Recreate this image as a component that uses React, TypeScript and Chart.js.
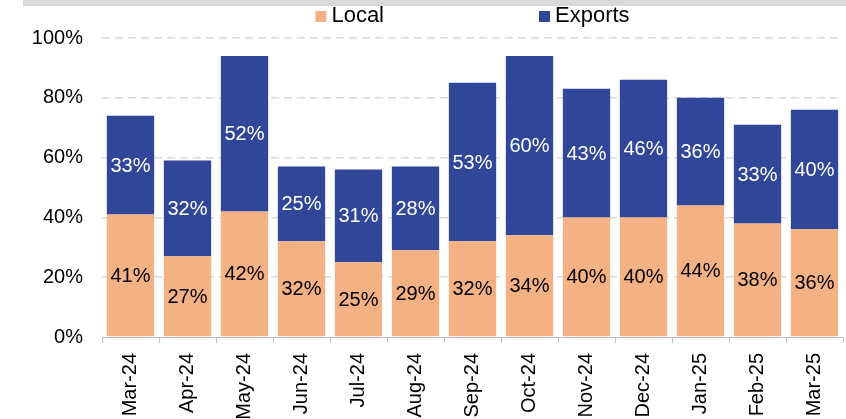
import React, { useEffect, useRef } from 'react';
import { Chart, registerables } from 'chart.js';

Chart.register(...registerables);

const categories = ['Mar-24', 'Apr-24', 'May-24', 'Jun-24', 'Jul-24', 'Aug-24', 'Sep-24', 'Oct-24', 'Nov-24', 'Dec-24', 'Jan-25', 'Feb-25', 'Mar-25'];
const localValues = [41, 27, 42, 32, 25, 29, 32, 34, 40, 40, 44, 38, 36];
const exportValues = [33, 32, 52, 25, 31, 28, 53, 60, 43, 46, 36, 33, 40];
const seriesNames = ['Local', 'Exports'];
const seriesColors = ['#F4B183', '#2F4699'];
const labelColors = ['#000000', '#ffffff'];
const yMin = 0;
const yMax = 100;
const yStep = 20;

const FONT = "'Liberation Sans', Arial, Helvetica, sans-serif";

export default function App() {
  const ref = useRef<HTMLCanvasElement>(null);

  useEffect(() => {
    const canvas = ref.current;
    if (!canvas) return;

    const topStrip = {
      id: 'topStrip',
      beforeDraw(chart: any) {
        const ctx = chart.ctx;
        ctx.save();
        ctx.fillStyle = '#d9d9d9';
        ctx.fillRect(23, 0, chart.width - 23, 6);
        ctx.restore();
      },
    };

    const customLegend = {
      id: 'customLegend',
      afterDraw(chart: any) {
        const ctx = chart.ctx;
        const area = chart.chartArea;
        ctx.save();
        ctx.font = `22px ${FONT}`;
        ctx.textBaseline = 'middle';
        ctx.textAlign = 'left';
        const box = 11;
        const gapBox = 5;
        const itemGap = 155;
        const widths = seriesNames.map((n) => ctx.measureText(n).width);
        const total = widths.reduce((a, w) => a + box + gapBox + w, 0) + itemGap * (seriesNames.length - 1);
        let x = (area.left + area.right) / 2 - total / 2;
        const cy = 16;
        seriesNames.forEach((name, i) => {
          ctx.fillStyle = seriesColors[i];
          ctx.fillRect(x, cy - 5, box, 11);
          ctx.fillStyle = '#000';
          ctx.fillText(name, x + box + gapBox, cy);
          x += box + gapBox + widths[i] + itemGap;
        });
        ctx.restore();
      },
    };

    const barLabels = {
      id: 'barLabels',
      afterDatasetsDraw(chart: any) {
        const ctx = chart.ctx;
        ctx.save();
        ctx.font = `20px ${FONT}`;
        ctx.textAlign = 'center';
        ctx.textBaseline = 'middle';
        chart.data.datasets.forEach((ds: any, di: number) => {
          const meta = chart.getDatasetMeta(di);
          meta.data.forEach((bar: any, i: number) => {
            const v = ds.data[i];
            const cy = (bar.y + bar.base) / 2;
            ctx.fillStyle = labelColors[di];
            ctx.fillText(`${Math.round(v)}%`, bar.x, cy + 1);
          });
        });
        ctx.restore();
      },
    };

    const chart = new Chart(canvas, {
      type: 'bar',
      data: {
        labels: categories,
        datasets: [
          {
            label: seriesNames[0],
            data: localValues,
            backgroundColor: seriesColors[0],
            categoryPercentage: 1,
            barPercentage: 0.83,
            borderWidth: 0,
          },
          {
            label: seriesNames[1],
            data: exportValues,
            backgroundColor: seriesColors[1],
            categoryPercentage: 1,
            barPercentage: 0.83,
            borderWidth: 0,
          },
        ],
      },
      options: {
        animation: false,
        responsive: false,
        maintainAspectRatio: false,
        layout: { padding: { top: 38, right: 3, left: 0, bottom: 0 } },
        plugins: {
          legend: { display: false },
          tooltip: { enabled: false },
        },
        scales: {
          x: {
            stacked: true,
            grid: {
              offset: true,
              drawOnChartArea: false,
              drawTicks: true,
              tickLength: 6,
              color: '#bfbfbf',
              lineWidth: 1,
            },
            border: { color: '#bfbfbf', width: 1 },
            ticks: {
              minRotation: 90,
              maxRotation: 90,
              autoSkip: false,
              padding: 10,
              color: '#000',
              font: { family: FONT, size: 20 },
            },
            afterFit: (s: any) => {
              s.height = 82;
              s.paddingRight = 0;
              s.paddingLeft = 0;
            },
          },
          y: {
            stacked: true,
            min: yMin,
            max: yMax,
            ticks: {
              stepSize: yStep,
              padding: 19,
              color: '#000',
              font: { family: FONT, size: 20 },
              callback: (v: any) => `${v}%`,
            },
            grid: {
              drawTicks: false,
              lineWidth: 1.5,
              color: (c: any) => (c.tick && c.tick.value === 0 ? 'rgba(0,0,0,0)' : '#d9d9d9'),
            },
            border: { display: false, dash: [8, 5] },
            afterFit: (s: any) => {
              s.width = 102;
              s.paddingTop = 0;
              s.paddingBottom = 0;
            },
          },
        },
      },
      plugins: [topStrip, barLabels, customLegend],
    } as any);

    return () => chart.destroy();
  }, []);

  return (
    <div style={{ position: 'fixed', left: 0, top: 0, width: 846, height: 419, background: '#fff' }}>
      <canvas ref={ref} width={846} height={419} style={{ display: 'block', width: 846, height: 419 }} />
    </div>
  );
}
